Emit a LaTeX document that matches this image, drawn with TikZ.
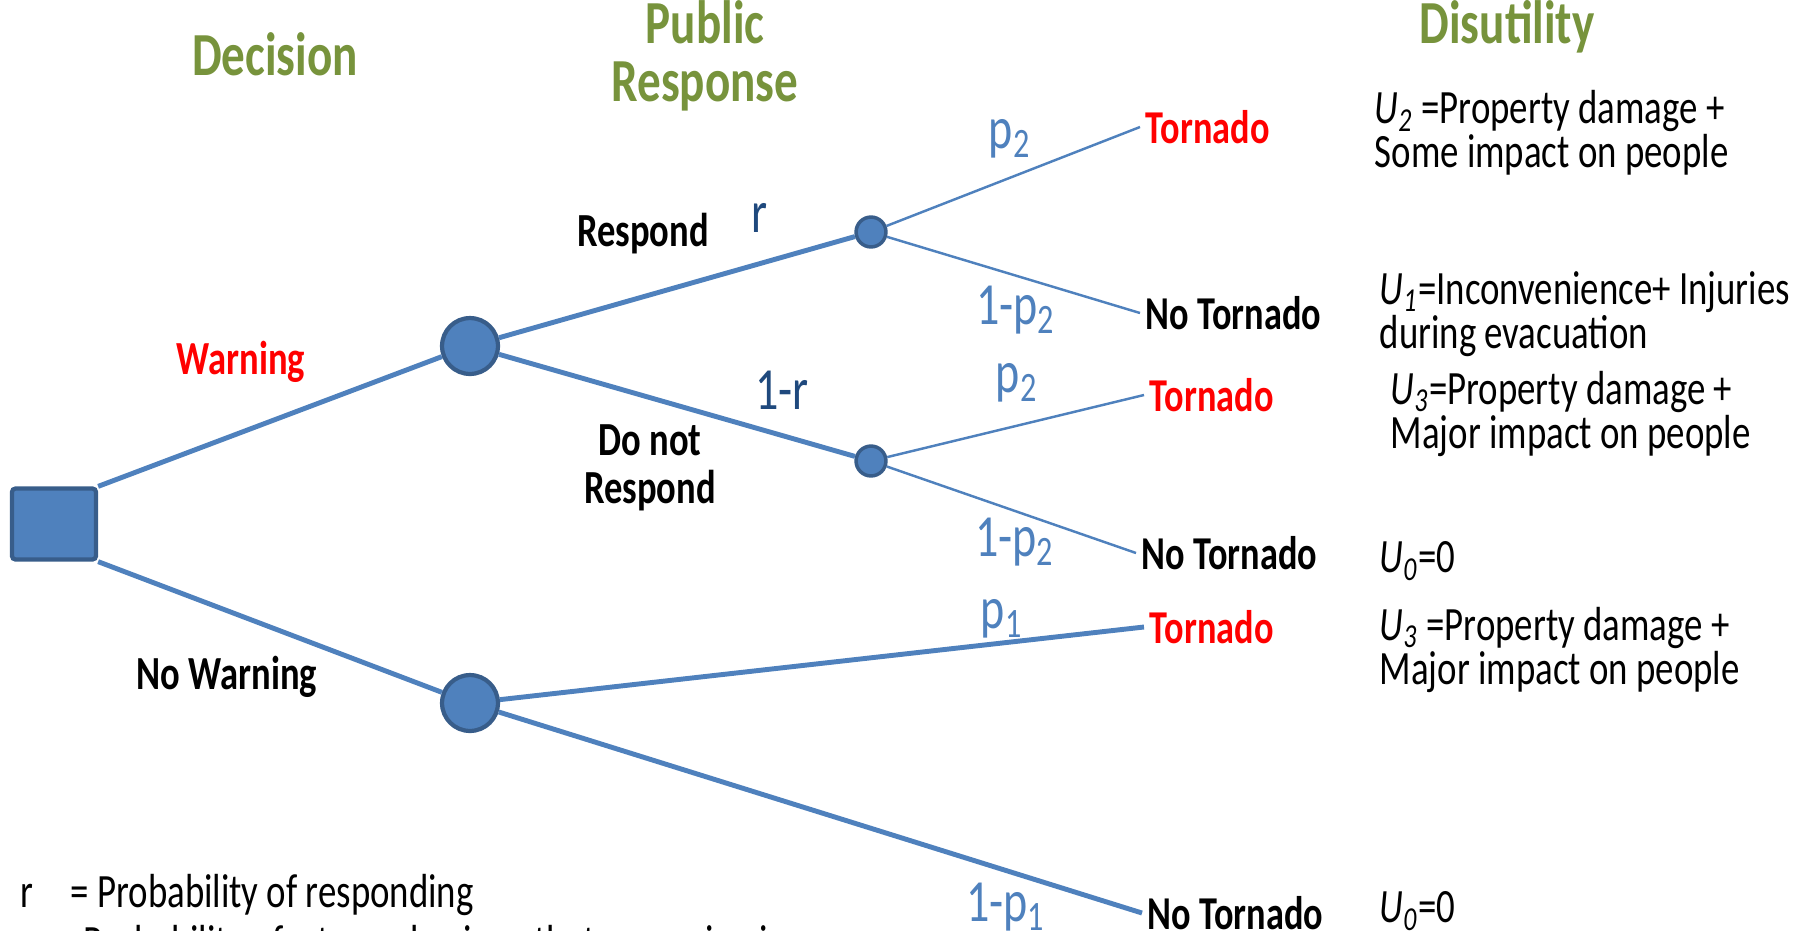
\documentclass[tikz,border=0pt]{standalone}
\usepackage{fontspec}
\setmainfont{Carlito}[FakeStretch=0.77]
\usetikzlibrary{calc, positioning}

\definecolor{nodeblue}{HTML}{4F81BD}
\definecolor{nodeedge}{HTML}{385D8A}
\definecolor{probnavy}{HTML}{1F497D}
\definecolor{headgreen}{HTML}{77933C}
\definecolor{tornred}{HTML}{FF0000}

\begin{document}
\begin{tikzpicture}[x=0.01cm, y=-0.01cm,
    branch/.style={draw=nodeblue, line width=1.4pt},
    twig/.style={draw=nodeblue, line width=0.7pt},
    chance/.style={circle, fill=nodeblue, draw=nodeedge, line width=1.2pt, minimum size=15.9pt, inner sep=0pt},
    small-chance/.style={chance, minimum size=8.5pt, line width=1pt},
    heading/.style={text=headgreen, font=\fontsize{17.4}{16.5}\selectfont\bfseries, align=center},
    choice/.style={font=\fontsize{13.5}{13.7}\selectfont\bfseries, align=center},
    prob/.style={text=nodeblue, font=\fontsize{17}{17}\selectfont},
    outcome/.style={font=\fontsize{13.4}{13.4}\selectfont\bfseries, anchor=west, inner sep=1.5pt},
    loss/.style={font=\fontsize{13.6}{12.6}\selectfont, anchor=west, align=left, inner sep=0pt},
  ]

  \useasboundingbox (0,0) rectangle (1800,930);
  \clip (0,0) rectangle (1800,930);

  % column headings
  \node[heading] (head-decision)   at (275,54)  {Decision};
  \node[heading] (head-response)   at (705,56)  {Public\\Response};
  \node[heading] (head-disutility) at (1507,27) {Disutility};

  % decision box and chance nodes
  \node[draw=nodeedge, fill=nodeblue, line width=1.2pt, minimum width=23.9pt, minimum height=20.2pt, rounded corners=1pt] (decision-box) at (54,524) {};
  \node[chance]       (warn-chance)   at (470,346) {};
  \node[chance]       (nowarn-chance) at (470,703) {};
  \node[small-chance] (resp-chance)   at (871,232) {};
  \node[small-chance] (noresp-chance) at (871,461) {};

  % outcomes
  \node[outcome, text=tornred] (resp-tornado)   at (1140,127) {Tornado};
  \node[outcome]               (resp-calm)      at (1140,313) {No Tornado};
  \node[outcome, text=tornred] (noresp-tornado) at (1144,395) {Tornado};
  \node[outcome]               (noresp-calm)    at (1136,553) {No Tornado};
  \node[outcome, text=tornred] (nowarn-tornado) at (1144,627) {Tornado};
  \node[outcome]               (nowarn-calm)    at (1142,913) {No Tornado};

  % branches
  \draw[branch] (decision-box.north east) to (warn-chance);
  \draw[branch] (decision-box.south east) to (nowarn-chance);
  \draw[branch] (warn-chance) to (resp-chance);
  \draw[branch] (warn-chance) to (noresp-chance);
  \draw[twig] (resp-chance) to (resp-tornado.west);
  \draw[twig] (resp-chance) to (resp-calm.west);
  \draw[twig] (noresp-chance) to (noresp-tornado.west);
  \draw[twig] (noresp-chance) to (noresp-calm.west);
  \draw[branch] (nowarn-chance) to (nowarn-tornado.west);
  \draw[branch] (nowarn-chance) to (nowarn-calm.west);

  % branch labels
  \node[choice, text=tornred] (lbl-warning)   at (241,362) {Warning};
  \node[choice]               (lbl-nowarning) at (227,677) {No Warning};
  \node[choice]               (lbl-respond)   at (643,234) {Respond};
  \node[choice]               (lbl-norespond) at (650,468) {Do not\\Respond};

  % probabilities
  \node[prob, text=probnavy] (prob-r)     at (760,218)  {r};
  \node[prob, text=probnavy] (prob-not-r) at (782,390)  {1-r};
  \node[prob] (prob-resp-t)   at (1010,139) {p\textsubscript{2}};
  \node[prob] (prob-resp-n)   at (1016,310) {1-p\textsubscript{2}};
  \node[prob] (prob-noresp-t) at (1017,383) {p\textsubscript{2}};
  \node[prob] (prob-noresp-n) at (1015,542) {1-p\textsubscript{2}};
  \node[prob] (prob-nowarn-t) at (1002,619) {p\textsubscript{1}};
  \node[prob] (prob-nowarn-n) at (1006,907) {1-p\textsubscript{1}};

  % disutilities
  \node[loss] (loss-resp-tornado)   at (1374,133) {\textit{U\textsubscript{2}} =Property damage +\\Some impact on people};
  \node[loss] (loss-resp-calm)      at (1379,314) {\textit{U\textsubscript{1}}=Inconvenience+ Injuries\\during evacuation};
  \node[loss] (loss-noresp-tornado) at (1390,414) {\textit{U\textsubscript{3}}=Property damage +\\Major impact on people};
  \node[loss] (loss-noresp-calm)    at (1379,561) {\textit{U\textsubscript{0}}=0};
  \node[loss] (loss-nowarn-tornado) at (1379,650) {\textit{U\textsubscript{3}} =Property damage +\\Major impact on people};
  \node[loss] (loss-nowarn-calm)    at (1379,911) {\textit{U\textsubscript{0}}=0};

  % legend
  \node[loss] (key-r)       at (20,895) {\makebox[14.2pt][l]{r}= Probability of responding};
  \node[loss] (key-tornado) at (56,946) {= Probability of a tornado given that a warning is};

\end{tikzpicture}
\end{document}
